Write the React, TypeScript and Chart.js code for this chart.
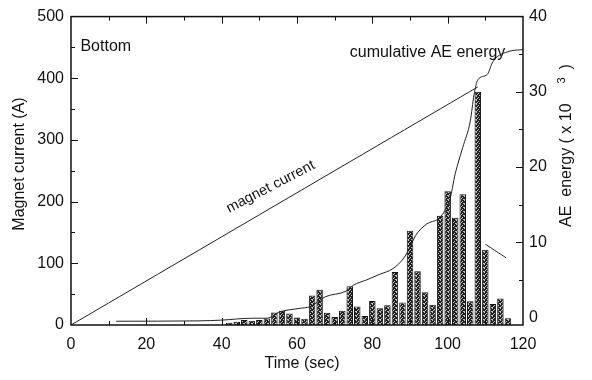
import React, { useEffect, useRef } from "react";
import { Chart, registerables } from "chart.js";

Chart.register(...registerables);

// ---- data ----
const barTimes = [42, 44, 46, 48, 50, 52, 54, 56, 58, 60, 62, 64, 66, 68, 70, 72, 74, 76, 78, 80, 82, 84, 86, 88, 90, 92, 94, 96, 98, 100, 102, 104, 106, 108, 110, 112, 114, 116];
const barValues = [3.7, 5.3, 8, 7, 8, 10.7, 20.4, 23, 18.8, 12.3, 10, 48, 57, 20, 13, 23, 63, 30, 14.5, 39, 27, 32, 86, 36.5, 153, 87, 53, 33, 177, 217, 174, 212, 38.6, 378, 122, 34, 43, 11];

const magnetTimes = [0, 108, 109, 110, 112, 114, 115.5];
const magnetValues: (number | null)[] = [0, 386, null, 131, 123, 115, 109];

const cumTimes = [12, 34, 40, 48, 52, 55.5, 60.5, 63.5, 67.5, 73, 75, 78.5, 82, 85.5, 88.5, 90, 91.5, 94.5, 97.5, 99, 100.5, 102, 104, 106, 107, 108, 110.5, 112, 116.5, 120];
const cumValues = [-0.5, -0.45, -0.35, -0.1, -0.1, 0.75, 1.2, 1.45, 2.75, 3.5, 4.3, 5.0, 5.75, 6.5, 8.0, 9.35, 10.9, 12.45, 13.1, 14.0, 15.5, 19.1, 22.6, 26.1, 29.6, 31.6, 32.3, 34.0, 35.4, 35.6];

const xTicks = [0, 20, 40, 60, 80, 100, 120];
const leftTicks = [0, 100, 200, 300, 400, 500];
const rightTicks = [0, 10, 20, 30, 40];

const FONT = "'Liberation Sans', Arial, Helvetica, sans-serif";
const INK = "#111";

function makePattern(): CanvasPattern | string {
  const tile = document.createElement("canvas");
  tile.width = 4;
  tile.height = 4;
  const t = tile.getContext("2d");
  if (!t) return "#444";
  const map = ["1000", "0010", "0100", "1001"];
  for (let r = 0; r < 4; r++) {
    for (let c = 0; c < 4; c++) {
      t.fillStyle = map[r][c] === "1" ? "#c4c4c4" : "#1c1c1c";
      t.fillRect(c, r, 1, 1);
    }
  }
  const ctx = document.createElement("canvas").getContext("2d");
  const p = ctx ? ctx.createPattern(tile, "repeat") : null;
  return p || "#444";
}

const decorPlugin = {
  id: "decor",
  afterDraw(chart: any) {
    const { ctx, chartArea: a, scales } = chart;
    const x = scales.x;
    const y = scales.y;
    const y1 = scales.y1;
    ctx.save();
    // frame
    ctx.strokeStyle = INK;
    ctx.lineWidth = 1.5;
    ctx.strokeRect(a.left, a.top, a.right - a.left, a.bottom - a.top);
    // inward ticks
    ctx.lineWidth = 1;
    ctx.beginPath();
    for (let v = 10; v < 120; v += 10) {
      const px = Math.round(x.getPixelForValue(v)) + 0.5;
      const len = v % 20 === 0 ? 7 : 4;
      ctx.moveTo(px, a.bottom);
      ctx.lineTo(px, a.bottom - len);
      ctx.moveTo(px, a.top);
      ctx.lineTo(px, a.top + len);
    }
    for (let v = 50; v < 500; v += 50) {
      const py = Math.round(y.getPixelForValue(v)) + 0.5;
      const len = v % 100 === 0 ? 7 : 4;
      ctx.moveTo(a.left, py);
      ctx.lineTo(a.left + len, py);
    }
    for (let v = 5; v < 40; v += 5) {
      const py = Math.round(y1.getPixelForValue(v)) + 0.5;
      const len = v % 10 === 0 ? 7 : 4;
      ctx.moveTo(a.right, py);
      ctx.lineTo(a.right - len, py);
    }
    ctx.stroke();

    // texts
    ctx.fillStyle = INK;
    ctx.font = `16px ${FONT}`;
    ctx.textBaseline = "middle";
    ctx.textAlign = "left";
    ctx.fillText("Bottom", x.getPixelForValue(2.5), y.getPixelForValue(451));
    ctx.fillText("cumulative AE energy", x.getPixelForValue(74), y1.getPixelForValue(35.2));

    // magnet current label along the line
    const p0x = x.getPixelForValue(magnetTimes[0]);
    const p0y = y.getPixelForValue(magnetValues[0] as number);
    const p1x = x.getPixelForValue(magnetTimes[1]);
    const p1y = y.getPixelForValue(magnetValues[1] as number);
    const ang = Math.atan2(p1y - p0y, p1x - p0x);
    ctx.save();
    ctx.translate(x.getPixelForValue(53), y.getPixelForValue(224));
    ctx.rotate(ang + 0.05);
    ctx.font = `14.5px ${FONT}`;
    ctx.textAlign = "center";
    ctx.fillText("magnet current", 0, 0);
    ctx.restore();

    // axis titles
    ctx.font = `16px ${FONT}`;
    ctx.textAlign = "center";
    ctx.fillText("Time (sec)", (a.left + a.right) / 2 + 5, 364);

    ctx.save();
    ctx.translate(20, 164);
    ctx.rotate(-Math.PI / 2);
    ctx.fillText("Magnet current (A)", 0, 0);
    ctx.restore();

    ctx.save();
    ctx.translate(567, 227);
    ctx.rotate(-Math.PI / 2);
    ctx.textAlign = "left";
    const main = "AE  energy ( x 10";
    ctx.fillText(main, 0, 0);
    const w = ctx.measureText(main).width;
    ctx.font = `11px ${FONT}`;
    ctx.fillText("3", w + 20, -5);
    ctx.font = `16px ${FONT}`;
    ctx.fillText(")", w + 34, 0);
    ctx.restore();

    ctx.restore();
  },
};

export default function App() {
  const ref = useRef<HTMLCanvasElement>(null);

  useEffect(() => {
    const canvas = ref.current;
    if (!canvas) return;
    const pattern = makePattern();
    const tickFont = { family: FONT, size: 16 };

    const chart = new Chart(canvas, {
      type: "bar",
      data: {
        datasets: [
          {
            type: "line",
            label: "magnet current",
            data: magnetTimes.map((t, i) => ({ x: t, y: magnetValues[i] })),
            yAxisID: "y",
            borderColor: "#222",
            borderWidth: 1,
            pointRadius: 0,
            spanGaps: false,
            tension: 0.2,
            order: 0,
          } as any,
          {
            type: "line",
            label: "cumulative AE energy",
            data: cumTimes.map((t, i) => ({ x: t, y: cumValues[i] })),
            yAxisID: "y1",
            borderColor: "#222",
            borderWidth: 1,
            pointRadius: 0,
            cubicInterpolationMode: "monotone",
            order: 0,
          } as any,
          {
            type: "bar",
            label: "AE",
            data: barTimes.map((t, i) => ({ x: t, y: barValues[i] })),
            yAxisID: "y",
            backgroundColor: pattern as any,
            borderColor: "#111",
            borderWidth: 1,
            barPercentage: 0.86,
            categoryPercentage: 1,
            order: 1,
          } as any,
        ],
      },
      options: {
        responsive: false,
        animation: false,
        devicePixelRatio: 1,
        layout: { padding: { top: 15, left: 0, right: 0, bottom: 0 } },
        plugins: { legend: { display: false }, tooltip: { enabled: false } },
        scales: {
          x: {
            type: "linear",
            min: 0,
            max: 120,
            offset: false,
            grid: { display: false, drawTicks: false },
            border: { display: false },
            ticks: { padding: 10, font: tickFont, color: INK, maxRotation: 0, autoSkip: false },
            afterBuildTicks: (s: any) => {
              s.ticks = xTicks.map((v) => ({ value: v }));
            },
            afterFit: (s: any) => {
              s.height = 55;
            },
          },
          y: {
            type: "linear",
            position: "left",
            min: 0,
            max: 500,
            grid: { display: false, drawTicks: false },
            border: { display: false },
            ticks: { padding: 7, font: tickFont, color: INK, autoSkip: false },
            afterBuildTicks: (s: any) => {
              s.ticks = leftTicks.map((v) => ({ value: v }));
            },
            afterFit: (s: any) => {
              s.width = 71;
            },
          },
          y1: {
            type: "linear",
            position: "right",
            min: -1,
            max: 40,
            grid: { display: false, drawTicks: false },
            border: { display: false },
            ticks: { padding: 6, font: tickFont, color: INK, autoSkip: false },
            afterBuildTicks: (s: any) => {
              s.ticks = rightTicks.map((v) => ({ value: v }));
            },
            afterFit: (s: any) => {
              s.width = 69;
            },
          },
        },
      } as any,
      plugins: [decorPlugin],
    });
    return () => chart.destroy();
  }, []);

  return (
    <div style={{ position: "fixed", left: 0, top: 0, width: 592, height: 380, background: "#fff" }}>
      <canvas ref={ref} width={592} height={380} style={{ display: "block", width: 592, height: 380 }} />
    </div>
  );
}
